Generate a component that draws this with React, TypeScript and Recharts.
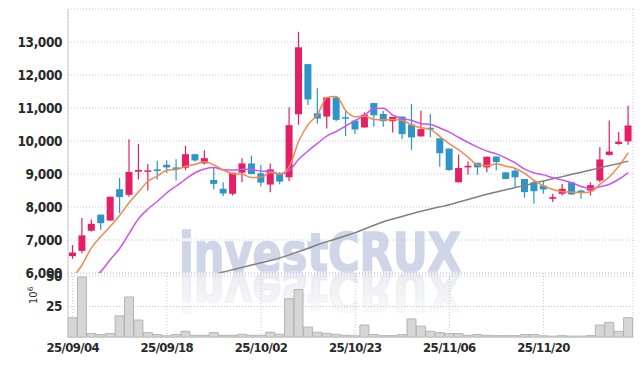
import React from 'react';
import { ComposedChart, Bar, Line, XAxis, YAxis, CartesianGrid } from 'recharts';

const dates = [
  '25/09/04','25/09/05','25/09/08','25/09/09','25/09/10','25/09/11','25/09/12','25/09/15','25/09/16','25/09/17',
  '25/09/18','25/09/19','25/09/22','25/09/23','25/09/24','25/09/25','25/09/26','25/09/29','25/09/30','25/10/01',
  '25/10/02','25/10/10','25/10/13','25/10/14','25/10/15','25/10/16','25/10/17','25/10/20','25/10/21','25/10/22',
  '25/10/23','25/10/24','25/10/27','25/10/28','25/10/29','25/10/30','25/10/31','25/11/03','25/11/04','25/11/05',
  '25/11/06','25/11/07','25/11/10','25/11/11','25/11/12','25/11/13','25/11/14','25/11/17','25/11/18','25/11/19',
  '25/11/20','25/11/21','25/11/24','25/11/25','25/11/26','25/11/27','25/11/28','25/12/01','25/12/02','25/12/03',
];

const opens = [
  6510, 6670, 7280, 7770, 7590, 8540, 8370, 9070, 9070, 9140,
  9280, 9200, 9190, 9600, 9320, 8820, 8550, 8400, 9040, 9320,
  9020, 8680, 9000, 8900, 10810, 12330, 10840, 10740, 11320, 10720,
  10620, 10410, 11150, 10820, 10600, 10740, 10500, 10140, 10400, 10080,
  9770, 8750, 9200, 9340, 9200, 9530, 9050, 9100, 8850, 8750,
  8650, 8250, 8400, 8750, 8500, 8500, 8800, 9580, 9910, 9990,
];
const highs = [
  6850, 7670, 7620, 7770, 8320, 8880, 10050, 9920, 9300, 9400,
  9420, 9450, 9850, 9610, 9720, 9190, 8750, 9040, 9480, 9550,
  9270, 9320, 9050, 11020, 13310, 12330, 11600, 11330, 11330, 10920,
  10650, 10870, 11150, 10920, 10730, 10740, 11120, 10920, 10820, 10080,
  9770, 9590, 9380, 9340, 9525, 9530, 9060, 9150, 8850, 8800,
  8800, 8400, 8700, 8760, 8520, 8750, 9810, 10620, 10270, 11070,
];
const lows = [
  6430, 6600, 7260, 7310, 7580, 7820, 8310, 8830, 8500, 8830,
  9030, 8800, 9110, 9370, 9290, 8540, 8330, 8350, 8750, 8990,
  8620, 8450, 8690, 8790, 10490, 11090, 10530, 10380, 10600, 10150,
  10210, 10410, 10430, 10430, 10260, 10060, 9730, 10130, 10110, 9220,
  9100, 8740, 8980, 8980, 9050, 9110, 8840, 8600, 8280, 8100,
  8400, 8150, 8350, 8370, 8250, 8350, 8750, 9560, 9890, 9890,
];
const closes = [
  6620, 7140, 7490, 7510, 8310, 8300, 9060, 9120, 9110, 9090,
  9200, 9170, 9600, 9410, 9480, 8700, 8410, 9040, 9320, 9000,
  8740, 9140, 8770, 10480, 12840, 11260, 10680, 11320, 10640, 10680,
  10350, 10800, 10780, 10600, 10730, 10210, 10110, 10360, 10350, 9630,
  9120, 9180, 9250, 9200, 9525, 9360, 8850, 8900, 8450, 8480,
  8530, 8300, 8550, 8380, 8430, 8660, 9440, 9680, 9980, 10470,
];
// volume in millions
const volumes = [
  15.8, 49.2, 2.8, 2.0, 2.8, 17.3, 32.8, 13.9, 3.6, 2.0,
  1.0, 2.0, 4.7, 1.4, 1.4, 3.6, 1.4, 1.4, 2.2, 1.4,
  1.4, 3.9, 2.2, 31.4, 38.9, 8.1, 3.9, 3.0, 2.2, 1.4,
  1.0, 9.8, 2.0, 1.1, 1.1, 2.0, 14.8, 8.9, 4.7, 3.6,
  2.8, 2.8, 1.4, 2.0, 1.4, 1.1, 1.1, 1.1, 2.0, 2.0,
  1.0, 0.7, 1.1, 0.7, 0.7, 1.1, 9.8, 12.0, 4.7, 15.8,
];
const ma5 = [
  5850, 6250, 6770, 7110, 7414, 7750, 8134, 8460, 8780, 8936,
  9116, 9138, 9234, 9294, 9372, 9272, 9120, 9008, 8990, 8894,
  8902, 9048, 8994, 9226, 9994, 10498, 10806, 11316, 11348, 10916,
  10734, 10758, 10650, 10642, 10652, 10624, 10486, 10402, 10352, 10132,
  9914, 9728, 9506, 9276, 9255, 9303, 9237, 9167, 9017, 8808,
  8642, 8532, 8462, 8448, 8438, 8464, 8692, 8918, 9238, 9646,
];
const ma10 = [
  5500, 5700, 5850, 6050, 6410, 6750, 7200, 7650, 7940, 8175,
  8433, 8636, 8847, 9037, 9154, 9194, 9129, 9121, 9142, 9133,
  9087, 9084, 9001, 9108, 9444, 9700, 9927, 10155, 10287, 10455,
  10616, 10782, 10983, 10995, 10784, 10679, 10622, 10526, 10497, 10392,
  10269, 10107, 9954, 9814, 9694, 9609, 9483, 9337, 9147, 9032,
  8973, 8885, 8815, 8733, 8623, 8553, 8612, 8690, 8841, 9040,
];
const ma60 = [
  4910, 4980, 5050, 5120, 5190, 5260, 5330, 5400, 5470, 5540,
  5610, 5680, 5750, 5820, 5890, 5960, 6030, 6100, 6170, 6240,
  6310, 6380, 6458, 6550, 6650, 6750, 6856, 6950, 7040, 7130,
  7224, 7335, 7445, 7552, 7635, 7715, 7795, 7871, 7940, 8005,
  8070, 8150, 8230, 8310, 8388, 8455, 8520, 8590, 8655, 8720,
  8790, 8855, 8920, 8990, 9055, 9120, 9190, 9255, 9320, 9390,
];
const priceTicks = [6000, 7000, 8000, 9000, 10000, 11000, 12000, 13000];
const volumeTicks = [25, 50];

const data = dates.map((date, i) => ({
  date,
  open: opens[i],
  high: highs[i],
  low: lows[i],
  close: closes[i],
  vol: volumes[i],
  ma5: ma5[i],
  ma10: ma10[i],
  ma60: ma60[i],
}));

const RED = '#e61e66';
const BLUE = '#2e95c8';
const FONT = "'DejaVu Sans Condensed', 'Liberation Sans Narrow', sans-serif";
const GRID = '#c6c6d6';
const BORDER = '#cccccc';
const WM_FONT = "'DejaVu Sans Condensed', 'DejaVu Sans', sans-serif";

const Candle = (props: any) => {
  const { x, y, width, height, payload } = props;
  if (!payload || x == null || y == null) return null;
  const { open, close, high, low } = payload;
  const top = Math.min(y, y + height);
  const h = Math.abs(height);
  const span = high - low || 1;
  const py = (v: number) => top + ((high - v) / span) * h;
  const up = close >= open;
  const color = up ? RED : BLUE;
  const cx = x + width / 2;
  const bTop = py(Math.max(open, close));
  const bBot = py(Math.min(open, close));
  return (
    <g>
      <line x1={cx} x2={cx} y1={top} y2={top + h} stroke={color} strokeWidth={1.2} />
      <rect x={x} y={bTop} width={width} height={Math.max(bBot - bTop, 1.5)} fill={color} />
    </g>
  );
};

const fmt = (v: number) => v.toLocaleString('en-US');

const YTick = (props: any) => {
  const { x, y, payload } = props;
  return (
    <text x={x} y={y} dy="0.36em" textAnchor="end" fontFamily={FONT} fontSize={13.5} fontWeight={700}
      fill="#2a2a2a" letterSpacing={-0.4}>
      {fmt(payload.value)}
    </text>
  );
};

const XTick = (props: any) => {
  const { x, y, payload } = props;
  return (
    <text x={x} y={y} dy="0.72em" textAnchor="middle" fontFamily={FONT} fontSize={13} fontWeight={700}
      fill="#2a2a2a" letterSpacing={-0.6}>
      {payload.value}
    </text>
  );
};

export default function App() {
  return (
    <div style={{ position: 'absolute', left: 0, top: 0, width: 642, height: 366, background: '#fff', overflow: 'hidden' }}>
      <svg width={642} height={366} style={{ position: 'absolute', left: 0, top: 0 }}>
        <defs>
          <linearGradient id="wmfade" x1="0" y1="0" x2="0" y2="1">
            <stop offset="0" stopColor="#e6e6ee" stopOpacity={0.05} />
            <stop offset="1" stopColor="#e6e6ee" stopOpacity={0.95} />
          </linearGradient>
        </defs>
        <text x={179} y={271} fontFamily={WM_FONT} fontWeight={700} fontSize={54}
          fill="#cfd6e7" stroke="#cfd6e7" strokeWidth={1.6} textLength={282} lengthAdjust="spacingAndGlyphs">investCRUX</text>
        <g transform="translate(0,544) scale(1,-1)">
          <text x={179} y={271} fontFamily={WM_FONT} fontWeight={700} fontSize={54}
            fill="url(#wmfade)" stroke="url(#wmfade)" strokeWidth={1.6} textLength={282} lengthAdjust="spacingAndGlyphs">investCRUX</text>
        </g>
      </svg>

      <div style={{ position: 'absolute', left: 0, top: 0 }}>
        <ComposedChart width={642} height={280} data={data} margin={{ top: 9, right: 9, left: 8, bottom: 7 }}>
          <CartesianGrid stroke={GRID} strokeDasharray="1 2" />
          <XAxis dataKey="date" interval={9} tick={false} tickLine={false} axisLine={false} height={0} />
          <XAxis xAxisId="top" orientation="top" dataKey="date" tick={false} tickLine={false} height={0} axisLine={{ stroke: BORDER }} />
          <YAxis domain={[6000, 14000]} allowDataOverflow ticks={priceTicks} interval={0} width={60}
            tick={<YTick />} tickLine={false} tickSize={0} tickMargin={6} axisLine={{ stroke: BORDER }} />
          <YAxis yAxisId="right" orientation="right" domain={[6000, 14000]} width={0} tick={false} tickLine={false} axisLine={{ stroke: BORDER }} />
          <Bar dataKey={(d: any) => [d.low, d.high]} shape={<Candle />} barSize={7} isAnimationActive={false} />
          <Line type="monotone" dataKey="ma60" stroke="#808080" strokeWidth={1.5} dot={false} activeDot={false} isAnimationActive={false} />
          <Line type="monotone" dataKey="ma10" stroke="#cc55ee" strokeWidth={1.5} dot={false} activeDot={false} isAnimationActive={false} />
          <Line type="monotone" dataKey="ma5" stroke="#f08a4c" strokeWidth={1.5} dot={false} activeDot={false} isAnimationActive={false} />
        </ComposedChart>
      </div>

      <div style={{ position: 'absolute', left: 0, top: 263 }}>
        <ComposedChart width={642} height={103} data={data} margin={{ top: 10, right: 9, left: 8, bottom: 0 }} barCategoryGap={0} barGap={0}>
          <CartesianGrid stroke={GRID} strokeDasharray="1 2" />
          <XAxis dataKey="date" interval={9} height={29} tick={<XTick />} tickLine={false} tickSize={0} tickMargin={6} axisLine={{ stroke: BORDER }} />
          <XAxis xAxisId="top" orientation="top" dataKey="date" tick={false} tickLine={false} height={0} axisLine={{ stroke: BORDER }} />
          <YAxis domain={[0, 52.5]} ticks={volumeTicks} interval={0} width={60} tick={<YTick />} tickLine={false} tickSize={0} tickMargin={6} axisLine={{ stroke: BORDER }} />
          <YAxis yAxisId="right" orientation="right" domain={[0, 52.5]} width={0} tick={false} tickLine={false} axisLine={{ stroke: BORDER }} />
          <Bar dataKey="vol" fill="#d6d6d6" stroke="#b4b4b4" strokeWidth={1} isAnimationActive={false} />
        </ComposedChart>
      </div>

      <svg width={642} height={366} style={{ position: 'absolute', left: 0, top: 0, pointerEvents: 'none' }}>
        <text transform="translate(37,304) rotate(-90)" fontFamily="'DejaVu Sans', sans-serif" fontSize={10} fill="#333">
          10<tspan dy={-4} fontSize={7.5}>6</tspan>
        </text>
      </svg>
    </div>
  );
}
